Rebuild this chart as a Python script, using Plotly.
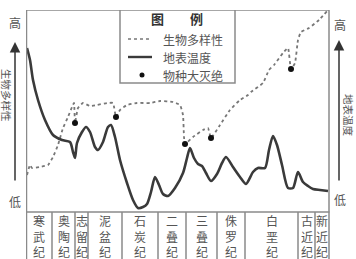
import plotly.graph_objects as go

# ---- data (x: relative position along the time axis, y: relative level) ----
periods = ["寒武纪", "奥陶纪", "志留纪", "泥盆纪", "石炭纪", "二叠纪",
           "三叠纪", "侏罗纪", "白垩纪", "古近纪", "新近纪"]
period_edges = [0.5, 26, 49, 62, 96, 132, 160, 191, 219, 272, 289, 303]

temp_x = [1, 4, 7, 12, 19, 27, 36, 44, 47, 49, 51, 56, 60, 64, 69, 72, 77, 82, 85, 89,
          94, 101, 107, 112, 117, 121, 125, 129, 133, 137, 142, 149, 157, 161, 164, 168,
          172, 176, 180, 185, 191, 196, 200, 207, 214, 220, 227, 232, 239, 243, 247, 251,
          256, 262, 267, 272, 277, 282, 287, 294, 302]
temp_y = [164, 152, 132, 112, 92, 77, 72, 70, 60, 54, 69, 80, 85, 80, 65, 62, 70, 85, 87, 75,
          52, 29, 12, 4, 5, 8, 20, 35, 27, 18, 16, 24, 39, 54, 64, 54,
          48, 46, 39, 31, 38, 49, 55, 45, 35, 28, 40, 44, 44, 62, 76, 67,
          47, 24, 24, 40, 30, 26, 23, 22, 21]

div_x = [1, 4, 6, 14, 22, 27, 32, 37, 42, 46, 48, 49, 52, 57, 64, 71, 81, 87, 90, 94,
         101, 111, 124, 134, 147, 154, 157, 158, 159, 167, 177, 182, 185, 194, 204, 214,
         222, 225, 237, 243, 248, 257, 262, 265, 269, 272, 275, 283, 293, 302]
div_y = [37, 47, 44, 45, 47, 55, 67, 84, 95, 105, 109, 89, 104, 109, 106, 107, 109, 109, 95, 102,
         107, 109, 109, 111, 110, 107, 97, 75, 68, 75, 82, 84, 74, 87, 102, 112,
         117, 120, 129, 142, 147, 159, 164, 143, 149, 172, 180, 184, 192, 202]

ext_x = [49, 90, 159, 185, 265]
ext_y = [89, 95, 68, 74, 143]

FONT = "Noto Sans CJK SC"
FRAME = "#8a8a8a"
TXT = "#555555"

fig = go.Figure()
fig.add_trace(go.Scatter(x=div_x, y=div_y, mode="lines", hoverinfo="skip",
                         line=dict(color="#777777", width=1.8, dash="dot",
                                   shape="spline", smoothing=0.4)))
fig.add_trace(go.Scatter(x=temp_x, y=temp_y, mode="lines", hoverinfo="skip",
                         line=dict(color="#3a3a3a", width=2.6,
                                   shape="spline", smoothing=0.7)))
fig.add_trace(go.Scatter(x=ext_x, y=ext_y, mode="markers", hoverinfo="skip",
                         marker=dict(color="#111111", size=6)))

shapes = []
# frame
shapes.append(dict(type="line", xref="x", yref="y", x0=0.5, x1=303, y0=202, y1=202,
                   line=dict(color=FRAME, width=1.5)))
shapes.append(dict(type="line", xref="x", yref="y", x0=0, x1=303.5, y0=0, y1=0,
                   line=dict(color=FRAME, width=1.5)))
for i, e in enumerate(period_edges):
    top = 202 if i in (0, len(period_edges) - 1) else 0
    shapes.append(dict(type="line", xref="x", yref="y", x0=e, x1=e, y0=-60, y1=top,
                       line=dict(color=FRAME, width=1.5)))
# legend box
shapes.append(dict(type="rect", xref="x", yref="y", x0=94, x1=209, y0=129, y1=202,
                   line=dict(color=FRAME, width=1.5), fillcolor="white"))
shapes.append(dict(type="line", xref="x", yref="y", x0=102, x1=126, y0=173, y1=173,
                   line=dict(color="#777777", width=1.6, dash="dot")))
shapes.append(dict(type="line", xref="x", yref="y", x0=102, x1=126, y0=155, y1=155,
                   line=dict(color="#3a3a3a", width=2.4)))
shapes.append(dict(type="circle", xref="x", yref="y", x0=113.5, x1=118.5, y0=134.5, y1=139.5,
                   line=dict(color="#111111", width=0), fillcolor="#111111"))

ann = []
ann.append(dict(x=151, y=194, xref="x", yref="y", text="<b>图　　例</b>", showarrow=False,
                font=dict(family=FONT, size=13, color="#333333")))
for yy, t in [(173, "生物多样性"), (155, "地表温度"), (137, "物种大灭绝")]:
    ann.append(dict(x=135, y=yy, xref="x", yref="y", text=t, showarrow=False,
                    xanchor="left", font=dict(family=FONT, size=12, color=TXT)))

# period labels
for i, p in enumerate(periods):
    cx = (period_edges[i] + period_edges[i + 1]) / 2
    ann.append(dict(x=cx, y=-24, xref="x", yref="y", text="<br>".join(p), showarrow=False,
                    font=dict(family=FONT, size=12, color=TXT), yanchor="middle"))

def px2paper(px, py):
    return (px - 26) / 304, (259 - py) / 249

def label(px, py, t, size=12, angle=0):
    xp, yp = px2paper(px, py)
    ann.append(dict(x=xp, y=yp, xref="paper", yref="paper", text=t, showarrow=False,
                    xanchor="center", yanchor="middle", textangle=angle,
                    font=dict(family=FONT, size=size, color=TXT)))

def arrow(px, tip, tail):
    xp, yp = px2paper(px, tip)
    ann.append(dict(x=xp, y=yp, xref="paper", yref="paper", text="", showarrow=True,
                    ax=0, ay=tail - tip, arrowhead=2, arrowsize=1.4, arrowwidth=1.5,
                    arrowcolor="#333333"))

# left axis
label(15, 22, "高")
label(15, 201, "低")
arrow(15, 42, 182)
label(7, 95, "生物多样性", size=10.5, angle=90)

# right axis
label(340, 24, "高")
label(340, 200, "低")
arrow(339, 40, 182)
label(349, 115, "地表温度", size=10.5, angle=90)

fig.update_layout(
    width=356, height=259,
    margin=dict(l=26, r=26, t=10, b=0, autoexpand=False),
    paper_bgcolor="white", plot_bgcolor="white",
    showlegend=False,
    xaxis=dict(range=[0, 304], visible=False, fixedrange=True),
    yaxis=dict(range=[-47, 202], visible=False, fixedrange=True),
    shapes=shapes, annotations=ann,
)
fig.write_html("out.html", config={"displayModeBar": False},
               post_script="document.body.style.margin='0';document.body.style.overflow='hidden';")
